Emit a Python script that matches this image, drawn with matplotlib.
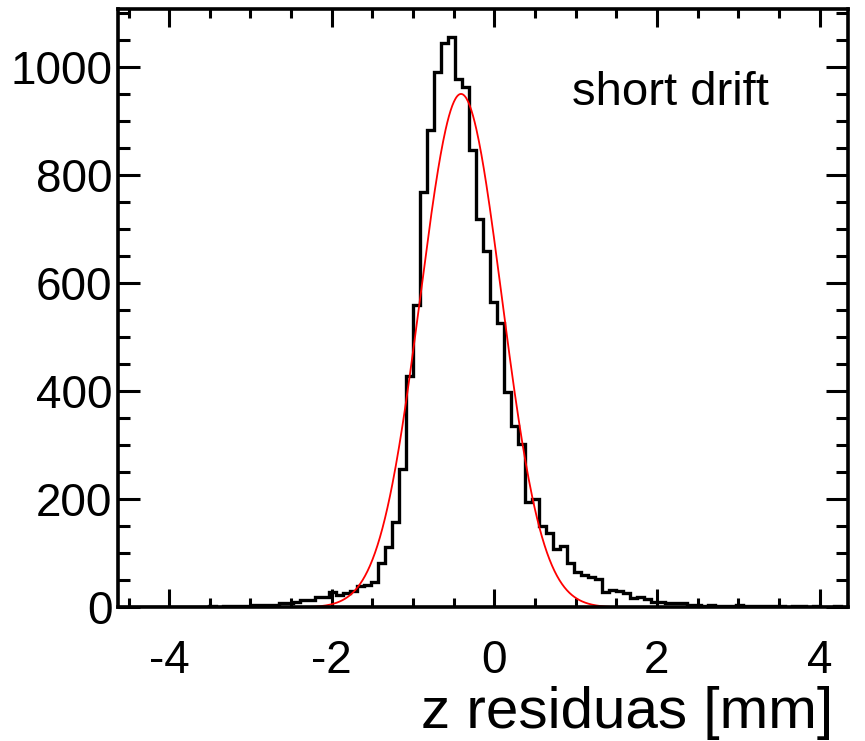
import numpy as np
import matplotlib.pyplot as plt
from matplotlib.ticker import MultipleLocator

plt.rcParams['font.family'] = ['Liberation Sans', 'DejaVu Sans']
plt.rcParams['axes.unicode_minus'] = False

# Гистограмма: 104 бина от -4.63 до 4.35
x_min = -4.63
x_max = 4.35
n_bins = 104

counts = [
    0, 1, 0, 0, 1, 0, 1, 0, 1, 1,
    0, 1, 1, 2, 1, 2, 2, 3, 2, 4,
    5, 4, 5, 8, 8, 11, 14, 14, 19, 19,
    29, 23, 26, 30, 40, 42, 47, 82, 111, 158,
    256, 428, 560, 769, 883, 991, 1045, 1055, 978, 963,
    847, 718, 659, 565, 527, 398, 335, 303, 195, 200,
    150, 137, 108, 114, 82, 66, 60, 56, 53, 29,
    32, 31, 26, 18, 19, 15, 11, 10, 9, 9,
    8, 5, 4, 3, 4, 3, 2, 3, 4, 2,
    3, 2, 3, 2, 2, 1, 2, 2, 1, 2,
    1, 1, 2, 1,
]

# Параметры гауссова фита
fit_amp = 950
fit_mean = -0.41
fit_sigma = 0.50
fit_range = [-2.43, 1.65]

edges = np.linspace(x_min, x_max, n_bins + 1)
xf = np.linspace(fit_range[0], fit_range[1], 400)
yf = fit_amp * np.exp(-0.5 * ((xf - fit_mean) / fit_sigma) ** 2)

fig = plt.figure(figsize=(8.65, 7.41), dpi=100)
ax = fig.add_axes([0.1364, 0.1802, 0.8439, 0.8083])

ax.stairs(counts, edges, color='black', linewidth=2.4)
ax.plot(xf, yf, color='red', linewidth=1.3)

ax.set_xlim(x_min, x_max)
ax.set_ylim(0, 1108)

ax.xaxis.set_major_locator(MultipleLocator(2))
ax.xaxis.set_minor_locator(MultipleLocator(0.5))
ax.yaxis.set_major_locator(MultipleLocator(200))
ax.yaxis.set_minor_locator(MultipleLocator(50))

ax.tick_params(axis='both', which='both', direction='in', top=True, right=True,
               width=2.2, labelsize=33)
ax.tick_params(axis='x', which='major', length=13, pad=23)
ax.tick_params(axis='x', which='minor', length=6.5)
ax.tick_params(axis='y', which='major', length=15.5, pad=4)
ax.tick_params(axis='y', which='minor', length=8.4)
for s in ax.spines.values():
    s.set_linewidth(2.6)

ax.text(0.622, 0.839, 'short drift', transform=ax.transAxes, fontsize=34,
        ha='left', va='baseline')
fig.text(0.963, 0.018, 'z residuas [mm]', fontsize=42, ha='right', va='baseline')

plt.savefig('out.png', dpi=100)
